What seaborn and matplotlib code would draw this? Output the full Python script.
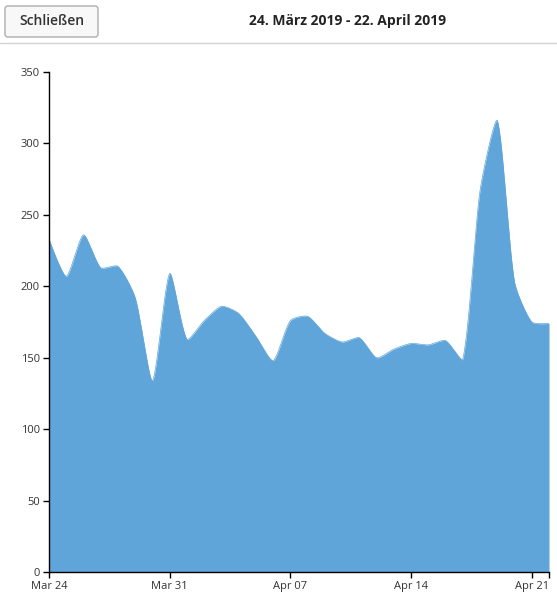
import numpy as np
import pandas as pd
import matplotlib
matplotlib.use("Agg")
import matplotlib.pyplot as plt
import matplotlib.dates as mdates
from matplotlib.patches import FancyBboxPatch
from matplotlib.lines import Line2D
import seaborn as sns

## daily values, 24 Mar - 22 Apr 2019
dates = pd.date_range("2019-03-24", "2019-04-22", freq="D")
values = [233, 207, 236, 213, 214, 192, 134, 209, 163, 176,
          186, 181, 165, 148, 176, 179, 167, 161, 164, 150,
          156, 160, 159, 162, 149, 267, 316, 203, 175, 174]
title = "24. März 2019 - 22. April 2019"
button_label = "Schließen"
y_ticks = [0, 50, 100, 150, 200, 250, 300, 350]
x_ticks = ["2019-03-24", "2019-03-31", "2019-04-07", "2019-04-14", "2019-04-21"]

fill_color = "#5fa5da"


def spline_path(px, py, tension=0.22, n=24):
    # tension spline through the points in pixel space (rendering only)
    P = np.column_stack([px, py]).astype(float)
    k = len(P)
    cin = P.copy()
    cout = P.copy()
    for i in range(1, k - 1):
        prev, cur, nxt = P[i - 1], P[i], P[i + 1]
        d01 = np.linalg.norm(cur - prev)
        d12 = np.linalg.norm(nxt - cur)
        s01 = d01 / (d01 + d12)
        s12 = d12 / (d01 + d12)
        cin[i] = cur - tension * s01 * (nxt - prev)
        cout[i] = cur + tension * s12 * (nxt - prev)
    out = [P[0]]
    t = np.linspace(0, 1, n + 1)[1:, None]
    for i in range(k - 1):
        p1, c1, c2, p2 = P[i], cout[i], cin[i + 1], P[i + 1]
        seg = ((1 - t) ** 3) * p1 + 3 * ((1 - t) ** 2) * t * c1 + 3 * (1 - t) * t**2 * c2 + t**3 * p2
        out.extend(seg)
    out = np.array(out)
    return out[:, 0], out[:, 1]


sns.set_style("white")
plt.rcParams["font.family"] = ["Open Sans", "DejaVu Sans"]

fig = plt.figure(figsize=(5.57, 6.02), dpi=100)
ax = fig.add_axes([49 / 557, 30 / 602, 500 / 557, 500 / 602])

ax.set_xlim(dates[0], dates[-1])
ax.set_ylim(0, 350)

# smooth the path in display space, then map back to data coords
xn = mdates.date2num(dates)
disp = ax.transData.transform(np.column_stack([xn, values]))
sx, sy = spline_path(disp[:, 0], disp[:, 1])
back = ax.transData.inverted().transform(np.column_stack([sx, sy]))
curve = pd.DataFrame({"date": mdates.num2date(back[:, 0]), "value": back[:, 1]})

sns.lineplot(data=curve, x="date", y="value", ax=ax, color=fill_color, lw=0.5, sort=False)
ax.fill_between(curve["date"], 0, curve["value"], color=fill_color, lw=0)

ax.set_xlim(dates[0], dates[-1])
ax.set_ylim(0, 350)
ax.set_yticks(y_ticks)
ax.set_xticks(pd.to_datetime(x_ticks))
ax.xaxis.set_major_formatter(mdates.DateFormatter("%b %d"))
ax.set_xticks([mdates.date2num(dates[-1])], minor=True)
ax.set_xlabel("")
ax.set_ylabel("")

for side in ["top", "right"]:
    ax.spines[side].set_visible(False)
for side in ["left", "bottom"]:
    ax.spines[side].set_color("black")
    ax.spines[side].set_linewidth(1)

ax.tick_params(axis="both", which="both", length=4.5, width=1, color="black",
               labelsize=8, labelcolor="#333333", pad=2,
               left=True, bottom=True)

# header
fig.add_artist(Line2D([0, 1], [1 - 43 / 602] * 2, color="#d3d3d3", lw=1))
fig.add_artist(FancyBboxPatch((5 / 557, 1 - 37 / 602), 93 / 557, 31 / 602,
                              boxstyle="round,pad=0,rounding_size=0.005",
                              fc="#f8f8f8", ec="#aeaeae", lw=1,
                              transform=fig.transFigure))
fig.text(52 / 557, 1 - 21 / 602, button_label, ha="center", va="center",
         fontsize=10, fontweight="semibold", color="#333333")
fig.text(348 / 557, 1 - 21 / 602, title, ha="center", va="center",
         fontsize=10, fontweight="bold", color="#222222")

fig.savefig("out.png", dpi=100)
